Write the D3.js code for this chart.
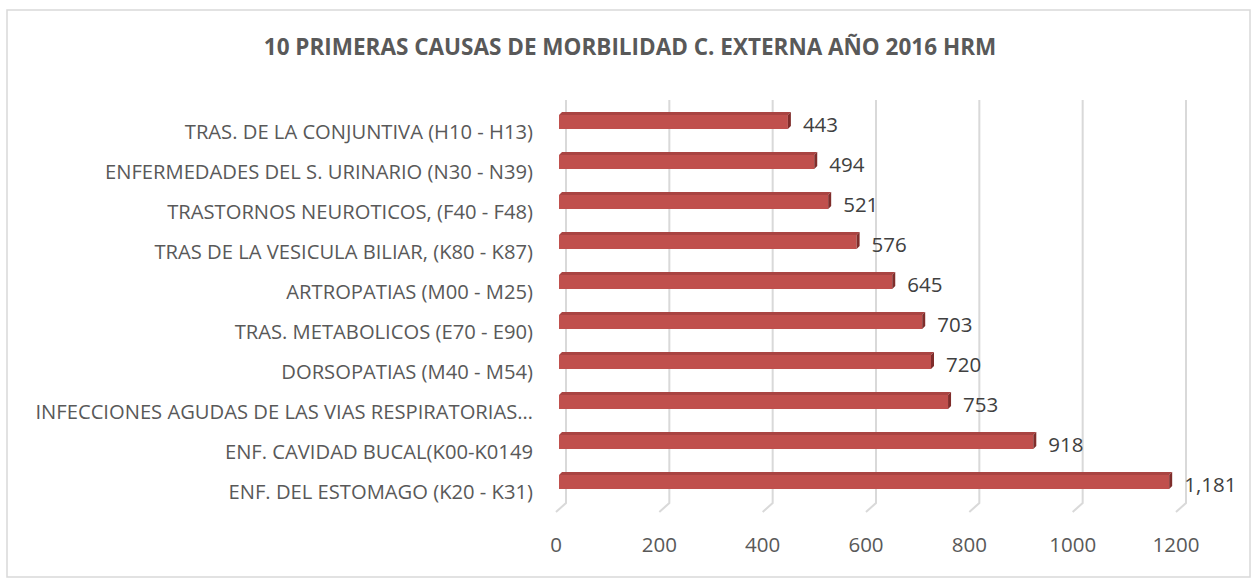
<!DOCTYPE html>
<html>
<head>
<meta charset="utf-8">
<script src="https://cdn.jsdelivr.net/npm/d3@7"></script>
<style>
  body { margin: 0; background: #fff; }
  text { font-family: "Open Sans", "Noto Sans", sans-serif; }
</style>
</head>
<body>
<div id="chart"></div>
<script>
// chart data, top to bottom
var categories = [
    'TRAS. DE LA CONJUNTIVA (H10 - H13)',
    'ENFERMEDADES DEL S. URINARIO (N30 - N39)',
    'TRASTORNOS NEUROTICOS, (F40 - F48)',
    'TRAS DE LA VESICULA BILIAR,  (K80 - K87)',
    'ARTROPATIAS (M00 - M25)',
    'TRAS. METABOLICOS (E70 - E90)',
    'DORSOPATIAS (M40 - M54)',
    'INFECCIONES AGUDAS DE LAS VIAS RESPIRATORIAS\u2026',
    'ENF. CAVIDAD BUCAL(K00-K0149',
    'ENF. DEL ESTOMAGO (K20 - K31)'
]
var values = [443, 494, 521, 576, 645, 703, 720, 753, 918, 1181]
var ticks = [0, 200, 400, 600, 800, 1000, 1200]
var title = '10 PRIMERAS CAUSAS DE MORBILIDAD C. EXTERNA AÑO 2016 HRM'

var width = 1255
var height = 585
var depthX = 10
var depthY = 9

var svg = d3.select('#chart').append('svg')
    .attr('width', width)
    .attr('height', height)

// outer border
svg.append('rect')
    .attr('x', 7).attr('y', 10)
    .attr('width', 1243).attr('height', 567)
    .attr('fill', '#fff')
    .attr('stroke', '#d9d9d9')
    .attr('stroke-width', 1.5)

svg.append('text')
    .attr('x', 630).attr('y', 55)
    .attr('text-anchor', 'middle')
    .style('font-size', '22.5px')
    .style('font-weight', 'bold')
    .style('fill', '#595959')
    .text(title)

// back wall scale
var xBack = d3.scaleLinear().domain([0, 1200]).range([566, 1186])
var xBar = d3.scaleLinear().domain([0, 1200]).range([559, 1179])
var y = d3.scaleBand().domain(categories).range([102, 502])

var plotTop = 100
var plotBottom = 503

// gridlines with the 3d floor step
svg.selectAll('.grid')
    .data(ticks)
    .enter().append('path')
    .attr('class', 'grid')
    .attr('d', function(d) {
        var x = xBack(d)
        return 'M' + x + ',' + plotTop + 'L' + x + ',' + plotBottom +
            'L' + (x - depthX) + ',' + (plotBottom + depthY)
    })
    .attr('fill', 'none')
    .attr('stroke', '#d9d9d9')
    .attr('stroke-width', 2)

svg.selectAll('.tick')
    .data(ticks)
    .enter().append('text')
    .attr('class', 'tick')
    .attr('x', function(d) { return xBack(d) - depthX })
    .attr('y', 552)
    .attr('text-anchor', 'middle')
    .style('font-size', '20.5px')
    .style('fill', '#595959')
    .text(function(d) { return d })

// bars
var barH = 14
var bars = svg.selectAll('.bar')
    .data(values)
    .enter().append('g')
    .attr('class', 'bar')

bars.append('rect')
    .attr('x', xBar(0))
    .attr('y', function(d, i) { return y(categories[i]) + y.bandwidth() / 2 - barH / 2 })
    .attr('width', function(d) { return xBar(d) - xBar(0) })
    .attr('height', barH)
    .attr('fill', '#c0504d')

// top face
bars.append('path')
    .attr('d', function(d, i) {
        var top = y(categories[i]) + y.bandwidth() / 2 - barH / 2
        var x0 = xBar(0), x1 = xBar(d)
        return 'M' + x0 + ',' + top + 'L' + (x0 + 3) + ',' + (top - 3) +
            'L' + (x1 + 3) + ',' + (top - 3) + 'L' + x1 + ',' + top + 'Z'
    })
    .attr('fill', '#a94442')

// side face
bars.append('path')
    .attr('d', function(d, i) {
        var top = y(categories[i]) + y.bandwidth() / 2 - barH / 2
        var x1 = xBar(d)
        return 'M' + x1 + ',' + top + 'L' + (x1 + 3) + ',' + (top - 3) +
            'L' + (x1 + 3) + ',' + (top + barH - 3) + 'L' + x1 + ',' + (top + barH) + 'Z'
    })
    .attr('fill', '#7f2d2b')

svg.selectAll('.value')
    .data(values)
    .enter().append('text')
    .attr('class', 'value')
    .attr('x', function(d) { return xBar(d) + 15 })
    .attr('y', function(d, i) { return y(categories[i]) + y.bandwidth() / 2 + 10 })
    .style('font-size', '20.5px')
    .style('fill', '#404040')
    .text(function(d) { return d3.format(',')(d) })

svg.selectAll('.cat')
    .data(categories)
    .enter().append('text')
    .attr('class', 'cat')
    .attr('x', 533)
    .attr('y', function(d) { return y(d) + y.bandwidth() / 2 + 16.5 })
    .attr('text-anchor', 'end')
    .style('font-size', '20.2px')
    .style('fill', '#595959')
    .text(function(d) { return d })
</script>
</body>
</html>
